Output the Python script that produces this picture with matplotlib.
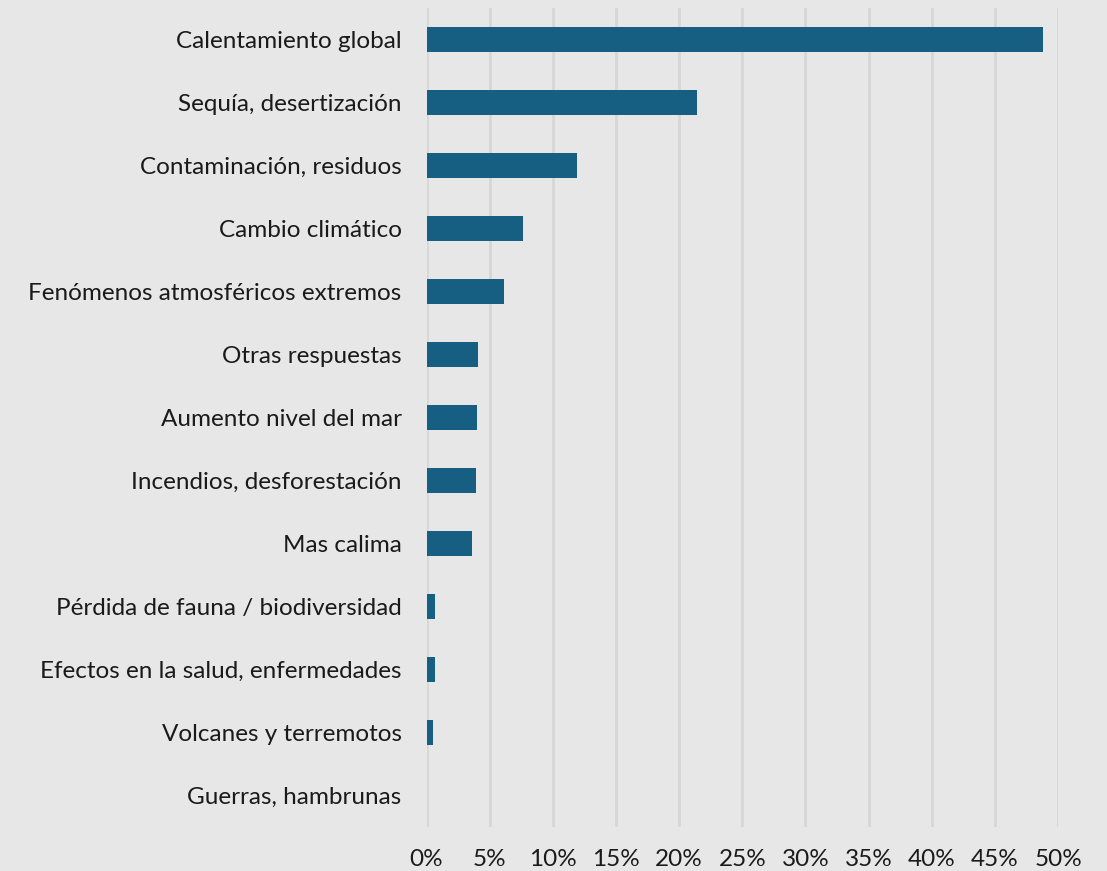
import matplotlib
matplotlib.use("Agg")
import matplotlib.pyplot as plt
from matplotlib.ticker import FuncFormatter

categories = [
    "Calentamiento global",
    "Sequía, desertización",
    "Contaminación, residuos",
    "Cambio climático",
    "Fenómenos atmosféricos extremos",
    "Otras respuestas",
    "Aumento nivel del mar",
    "Incendios, desforestación",
    "Mas calima",
    "Pérdida de fauna / biodiversidad",
    "Efectos en la salud, enfermedades",
    "Volcanes y terremotos",
    "Guerras, hambrunas",
]
values = [48.8, 21.4, 11.9, 7.6, 6.1, 4.1, 4.0, 3.9, 3.6, 0.7, 0.7, 0.5, 0.0]
x_ticks = [0, 5, 10, 15, 20, 25, 30, 35, 40, 45, 50]

BG = "#e7e7e7"
BAR = "#175f82"

plt.rcParams["font.family"] = ["Lato", "DejaVu Sans"]

fig = plt.figure(figsize=(11.07, 8.71), dpi=100, facecolor=BG)
ax = fig.add_axes([0.3853, 0.051, 0.5705, 0.940])
ax.set_facecolor(BG)

y = list(range(len(categories)))
ax.barh(y, values, height=0.4, color=BAR, zorder=3)

ax.set_ylim(len(categories) - 0.5, -0.5)
ax.set_yticks(y)
ax.set_yticklabels(categories, fontsize=17.5, color="#1a1a1a")

ax.set_xlim(0, 50)
ax.set_xticks(x_ticks)
ax.xaxis.set_major_formatter(FuncFormatter(lambda v, p: f"{v:.0f}%"))
ax.tick_params(axis="x", labelsize=17.5, colors="#1a1a1a", length=0, pad=16)
ax.tick_params(axis="y", length=0, pad=18)

ax.grid(axis="x", color="#d7d7d7", linewidth=2, zorder=0)
for s in ax.spines.values():
    s.set_visible(False)

fig.savefig("out.png", dpi=100, facecolor=BG)
